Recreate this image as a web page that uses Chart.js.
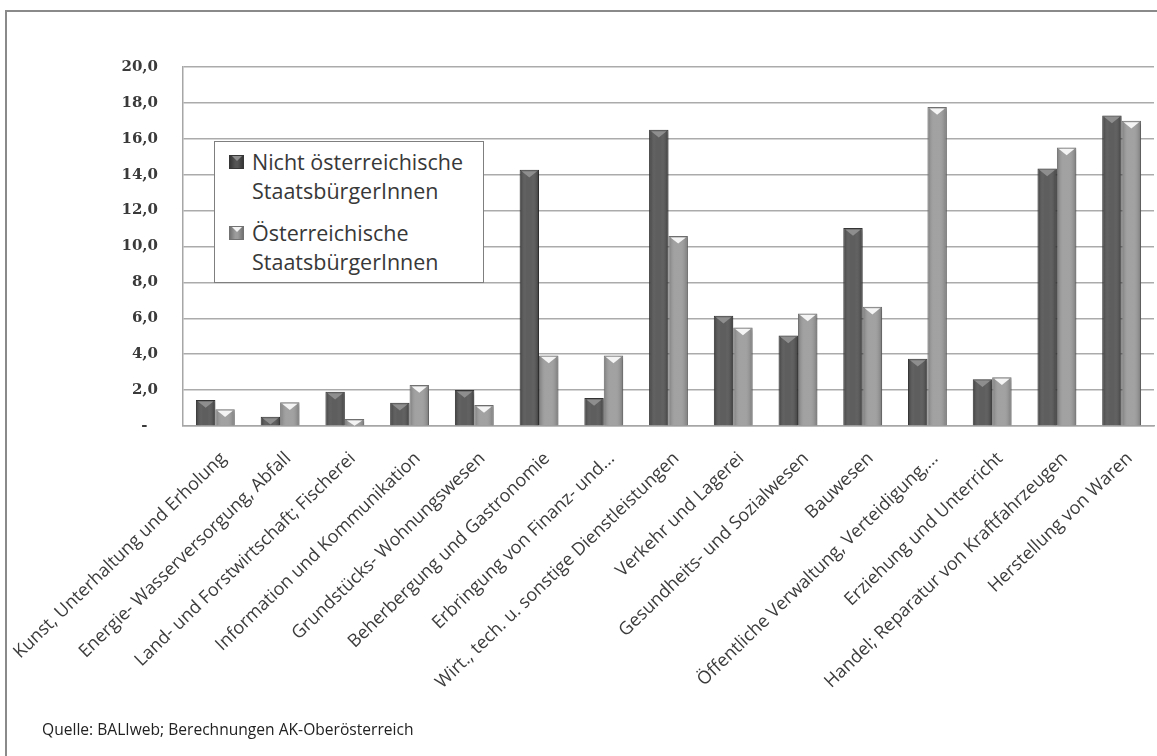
<!DOCTYPE html>
<html>
<head>
<meta charset="utf-8">
<script src="https://cdn.jsdelivr.net/npm/chart.js@4.4.1/dist/chart.umd.min.js"></script>
<style>
  html, body { margin: 0; padding: 0; background: #ffffff; }
  body { width: 1157px; height: 756px; position: relative; overflow: hidden; font-family: "Open Sans", sans-serif; }
  #frame { position: absolute; left: 5px; top: 10px; width: 1200px; height: 800px; border: 2px solid #8a8a8a; box-sizing: border-box; }
  #wrap { position: absolute; left: 0; top: 0; width: 1157px; height: 756px; }
  #legend { position: absolute; left: 214px; top: 141px; width: 270px; height: 142px; border: 1.5px solid #7f7f7f; background: #fff; box-sizing: border-box; }
  .item { position: absolute; left: 37px; font-size: 21.5px; line-height: 29px; color: #383838; white-space: nowrap; }
  .mark { position: absolute; left: -23px; top: 8px; width: 15px; height: 14px; box-sizing: border-box; overflow: hidden; }
  .mark .tri { position: absolute; left: 2px; top: 0; width: 0; height: 0; border-left: 5.5px solid transparent; border-right: 5.5px solid transparent; }
  #source { position: absolute; left: 42px; top: 718px; font-size: 15.6px; color: #222; white-space: nowrap; }
</style>
</head>
<body>
<div id="frame"></div>
<div id="wrap"><canvas id="c" width="1157" height="756"></canvas></div>
<div id="legend"></div>
<div id="source">Quelle: BALIweb; Berechnungen AK-Oberösterreich</div>
<script>
// ---- data ----
const categories = [
  "Kunst, Unterhaltung und Erholung",
  "Energie- Wasserversorgung, Abfall",
  "Land- und Forstwirtschaft; Fischerei",
  "Information und Kommunikation",
  "Grundstücks- Wohnungswesen",
  "Beherbergung und Gastronomie",
  "Erbringung von Finanz- und...",
  "Wirt., tech. u. sonstige Dienstleistungen",
  "Verkehr und Lagerei",
  "Gesundheits- und Sozialwesen",
  "Bauwesen",
  "Öffentliche Verwaltung, Verteidigung,...",
  "Erziehung und Unterricht",
  "Handel; Reparatur von Kraftfahrzeugen",
  "Herstellung von Waren"
];
const seriesNames = ["Nicht österreichische StaatsbürgerInnen", "Österreichische StaatsbürgerInnen"];
const nichtOesterreichisch = [1.45, 0.52, 1.91, 1.30, 2.00, 14.27, 1.56, 16.50, 6.14, 5.04, 11.03, 3.74, 2.60, 14.34, 17.30];
const oesterreichisch      = [0.93, 1.32, 0.39, 2.28, 1.17, 3.93, 3.93, 10.59, 5.49, 6.27, 6.64, 17.77, 2.72, 15.52, 17.00];
const yTicks = [0, 2, 4, 6, 8, 10, 12, 14, 16, 18, 20];

// ---- styles ----
const barStyles = [
  { fill: "#545454", border: "#363636", edge: "rgba(0,0,0,0.32)", tri: "#8e8e8e" },
  { fill: "#9c9c9c", border: "#727272", edge: "rgba(0,0,0,0.24)", tri: "#f4f4f4" }
];

// HTML legend (two-line labels as in the original)
const legendLines = [["Nicht österreichische", "StaatsbürgerInnen"], ["Österreichische", "StaatsbürgerInnen"]];
const legendTops = [5, 76];
const legendEl = document.getElementById("legend");
legendLines.forEach((lines, i) => {
  const it = document.createElement("div");
  it.className = "item";
  it.style.top = legendTops[i] + "px";
  const m = document.createElement("div");
  m.className = "mark";
  m.style.background = `linear-gradient(to right, ${barStyles[i].border}, ${barStyles[i].fill} 40%, ${barStyles[i].fill} 60%, ${barStyles[i].border})`;
  m.style.border = "1px solid " + barStyles[i].border;
  const t = document.createElement("div");
  t.className = "tri";
  t.style.borderTop = "5px solid " + barStyles[i].tri;
  m.appendChild(t);
  it.appendChild(m);
  it.appendChild(document.createTextNode(lines[0]));
  it.appendChild(document.createElement("br"));
  it.appendChild(document.createTextNode(lines[1]));
  legendEl.appendChild(it);
});

const bevelPlugin = {
  id: "bevel",
  beforeDatasetsDraw(chart) {
    const ctx = chart.ctx;
    ctx.save();
    ctx.shadowColor = "rgba(0,0,0,0.28)";
    ctx.shadowBlur = 3;
    ctx.shadowOffsetX = 1.5;
    ctx.shadowOffsetY = 1.5;
  },
  afterDatasetsDraw(chart) {
    const ctx = chart.ctx;
    ctx.restore();
    ctx.save();
    chart.data.datasets.forEach((ds, di) => {
      const meta = chart.getDatasetMeta(di);
      const st = barStyles[di];
      meta.data.forEach(el => {
        const p = el.getProps(["x", "y", "base", "width"], true);
        const l = p.x - p.width / 2, r = p.x + p.width / 2;
        const g = ctx.createLinearGradient(l, 0, r, 0);
        g.addColorStop(0, st.edge);
        g.addColorStop(0.35, "rgba(255,255,255,0.06)");
        g.addColorStop(0.6, "rgba(255,255,255,0.06)");
        g.addColorStop(1, st.edge);
        ctx.fillStyle = g;
        ctx.fillRect(l + 1, p.y + 1, p.width - 2, p.base - p.y - 1);
        const h = Math.min(p.width * 0.32, (p.base - p.y) - 1);
        if (h > 1) {
          ctx.beginPath();
          ctx.moveTo(l + 2, p.y + 1.5);
          ctx.lineTo(r - 2, p.y + 1.5);
          ctx.lineTo(p.x, p.y + 1.5 + h);
          ctx.closePath();
          ctx.fillStyle = st.tri;
          ctx.fill();
        }
      });
    });
    ctx.restore();
  }
};

new Chart(document.getElementById("c"), {
  type: "bar",
  data: {
    labels: categories,
    datasets: [
      { label: seriesNames[0], data: nichtOesterreichisch, backgroundColor: barStyles[0].fill, borderColor: barStyles[0].border, borderWidth: 1 },
      { label: seriesNames[1], data: oesterreichisch, backgroundColor: barStyles[1].fill, borderColor: barStyles[1].border, borderWidth: 1 }
    ]
  },
  options: {
    responsive: false,
    animation: false,
    devicePixelRatio: 1,
    layout: { padding: { top: 67, right: 3, left: 0, bottom: 0 } },
    datasets: { bar: { barPercentage: 1.0, categoryPercentage: 0.6 } },
    plugins: { legend: { display: false }, tooltip: { enabled: false } },
    scales: {
      x: {
        grid: { display: false },
        border: { display: true, color: "#a6a6a6", width: 1.5 },
        ticks: {
          autoSkip: false, maxRotation: 44, minRotation: 44, padding: 14, labelOffset: 8,
          color: "#3c3c3c", font: { family: "Open Sans", size: 18 }
        },
        afterFit(scale) { scale.height = 330; scale.paddingLeft = 0; scale.paddingRight = 0; }
      },
      y: {
        min: 0, max: 20,
        afterBuildTicks(scale) { scale.ticks = yTicks.map(v => ({ value: v })); },
        grid: { color: "#ababab", lineWidth: 1.5, drawTicks: false },
        border: { display: true, color: "#a6a6a6", width: 1.5 },
        ticks: {
          padding: 25, color: "#3a3a3a",
          font: { family: "DejaVu Serif", size: 15, weight: "bold" },
          callback: v => v === 0 ? "-  " : v.toFixed(1).replace(".", ",")
        },
        afterFit(scale) { scale.width = 183; scale.paddingTop = 0; scale.paddingBottom = 0; }
      }
    }
  },
  plugins: [bevelPlugin]
});
</script>
</body>
</html>
